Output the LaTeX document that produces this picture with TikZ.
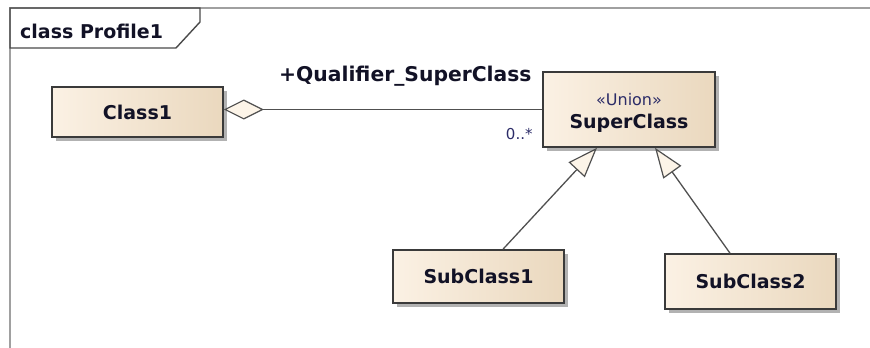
\documentclass[tikz,border=0pt]{standalone}
\usepackage{fontspec}
\setmainfont{DejaVu Sans}
\usetikzlibrary{arrows.meta,shadows}

\definecolor{boxleft}{HTML}{FBF1E4}
\definecolor{boxright}{HTML}{EAD8BE}
\definecolor{boxline}{HTML}{3A3A3A}
\definecolor{frameline}{HTML}{A0A0A0}
\definecolor{tabline}{HTML}{4A4A4A}
\definecolor{wire}{HTML}{505050}
\definecolor{tipfill}{HTML}{FCF4E8}
\definecolor{ink}{HTML}{121226}
\definecolor{navy}{HTML}{2C2C68}

\newcommand\umlbold{\fontsize{19}{22}\selectfont\bfseries}
\newcommand\umlrole{\fontsize{20.3}{23}\selectfont\bfseries}
\newcommand\umlplain{\fontsize{16}{19}\selectfont}
\newcommand\umlsmall{\fontsize{15}{18}\selectfont}

\begin{document}
\begin{tikzpicture}[x=1pt,y=-1pt,
  classbox/.style={draw=boxline, line width=1.6pt,
    left color=boxleft, right color=boxright,
    minimum width=171pt, inner sep=0pt,
    font=\umlbold, text=ink,
    drop shadow={shadow xshift=4pt, shadow yshift=-4pt, fill=black, opacity=.3}},
  txt/.style={inner sep=0pt, text=ink},
  wirestyle/.style={draw=wire, line width=1.3pt},
  aggregation/.style={wirestyle, {Diamond[length=40pt,width=20pt,fill=tipfill,line width=1.2pt]}-},
  generalization/.style={wirestyle, -{Triangle[length=30pt,width=22pt,fill=tipfill,line width=1.2pt]}}
]
\useasboundingbox (0,0) rectangle (870,348);

% diagram frame and its name tab
\draw[frameline, line width=2.8pt] (10,352) -- (10,8) -- (874,8);
\draw[tabline, line width=1.4pt, line join=miter]
  (10,48) -- (176,48) -- (200,22) -- (200,8) -- (10,8) -- cycle;
\node[txt, anchor=west, font=\umlbold] (title) at (20,31) {class Profile1};

% classes
\node[classbox, minimum height=50pt] (c1) at (137.5,112) {Class1};
\node[classbox, minimum width=172pt, minimum height=75pt] (sc) at (629,109.5) {};
\node[txt, font=\umlplain, text=navy] (stereo) at (629,100) {«Union»};
\node[txt, font=\umlbold] (scname) at (629,123) {SuperClass};
\node[classbox, minimum height=53pt] (s1) at (478.5,276.5) {SubClass1};
\node[classbox, minimum height=55pt] (s2) at (750.5,281.5) {SubClass2};

% association with aggregation end and its role labels
\draw[aggregation] (c1.east |- sc.west) -- (sc.west)
  node[pos=1, anchor=base east, xshift=-10pt, yshift=28pt, txt, font=\umlrole] (role) {+Qualifier\_SuperClass}
  node[pos=1, anchor=base east, xshift=-9pt, yshift=-30pt, txt, font=\umlsmall, text=navy] (mult) {0..*};

% generalizations
\draw[generalization] ([xshift=24.5pt]s1.north) -- ([xshift=-32pt]sc.south);
\draw[generalization] ([xshift=-20.5pt]s2.north) -- ([xshift=26pt]sc.south);
\end{tikzpicture}
\end{document}
